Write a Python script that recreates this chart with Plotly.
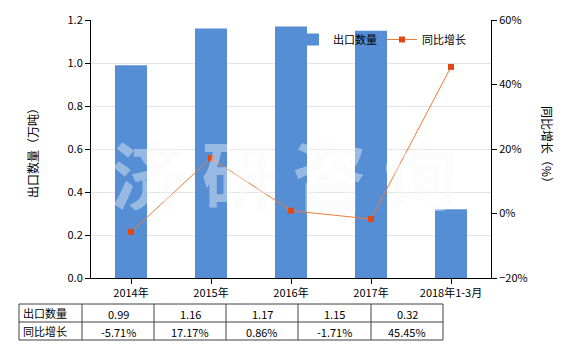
import plotly.graph_objects as go

categories = ["2014年", "2015年", "2016年", "2017年", "2018年1-3月"]
export_qty = [0.99, 1.16, 1.17, 1.15, 0.32]
yoy_growth = [-5.71, 17.17, 0.86, -1.71, 45.45]
qty_labels = ["0.99", "1.16", "1.17", "1.15", "0.32"]
yoy_labels = ["-5.71%", "17.17%", "0.86%", "-1.71%", "45.45%"]
row_labels = ["出口数量", "同比增长"]

FONT = "Noto Sans CJK SC"
W, H = 580, 350
ML, MR, MT, MB = 91, 89, 20, 72
PW, PH = W - ML - MR, H - MT - MB

def px(x):
    return (x - ML) / PW

def py(y):
    return (H - MB - y) / PH

fig = go.Figure()
fig.add_trace(go.Bar(
    x=categories, y=export_qty, name="出口数量",
    marker=dict(color="#558ED5", line=dict(width=0)),
    width=0.4, yaxis="y",
))
fig.add_trace(go.Scatter(
    x=categories, y=yoy_growth, name="同比增长", mode="lines+markers",
    line=dict(color="#EE7B3C", width=1),
    marker=dict(symbol="square", size=6, color="#E04A12"),
    yaxis="y2",
))

shapes = []
annotations = []

# watermark
annotations.append(dict(
    text="<b>济 研 咨 询</b>", xref="paper", yref="paper", x=px(284), y=py(172),
    showarrow=False, font=dict(family=FONT, size=74, color="rgba(245,248,246,0.42)"),
    xanchor="center", yanchor="middle",
))

# table
col_edges = [19, 82, 154, 226, 298, 371, 443]
row_edges = [304, 322, 340]
line_style = dict(color="#404040", width=1)
for x in col_edges:
    shapes.append(dict(type="line", xref="paper", yref="paper",
                       x0=px(x), x1=px(x), y0=py(row_edges[0]), y1=py(row_edges[-1]),
                       line=line_style))
for y in row_edges:
    shapes.append(dict(type="line", xref="paper", yref="paper",
                       x0=px(col_edges[0]), x1=px(col_edges[-1]), y0=py(y), y1=py(y),
                       line=line_style))
rows = [qty_labels, yoy_labels]
for r, (lab, vals) in enumerate(zip(row_labels, rows)):
    yc = (row_edges[r] + row_edges[r + 1]) / 2
    annotations.append(dict(text=lab, xref="paper", yref="paper", x=px(col_edges[0] + 2), y=py(yc),
                            showarrow=False, xanchor="left", yanchor="middle",
                            font=dict(family=FONT, size=11, color="#000")))
    for c, v in enumerate(vals):
        xc = (col_edges[c + 1] + col_edges[c + 2]) / 2
        annotations.append(dict(text=v, xref="paper", yref="paper", x=px(xc), y=py(yc + 1),
                                showarrow=False, xanchor="center", yanchor="middle",
                                font=dict(family=FONT, size=11, color="#000")))

# axis titles
annotations.append(dict(text="出口数量（万吨）", xref="paper", yref="paper", x=px(32), y=py(150),
                        showarrow=False, textangle=-90, xanchor="center", yanchor="middle",
                        font=dict(family=FONT, size=12, color="#000")))
annotations.append(dict(text="同比增长（%）", xref="paper", yref="paper", x=px(548), y=py(147),
                        showarrow=False, textangle=90, xanchor="center", yanchor="middle",
                        font=dict(family=FONT, size=12, color="#000")))

fig.update_layout(
    width=W, height=H, margin=dict(l=ML, r=MR, t=MT, b=MB, pad=0),
    paper_bgcolor="white", plot_bgcolor="white",
    font=dict(family=FONT, size=11, color="#000"),
    bargap=0.6,
    xaxis=dict(showline=True, linecolor="#000", linewidth=1, ticks="outside", ticklen=5,
               tickcolor="#000", showgrid=False, tickfont=dict(size=11)),
    yaxis=dict(range=[0, 1.2], dtick=0.2, tickformat=".1f", showline=True, linecolor="#000",
               linewidth=1, ticks="outside", ticklen=5, tickcolor="#000",
               showgrid=True, gridcolor="#E3E3E3", gridwidth=1, zeroline=False,
               tickfont=dict(size=11)),
    yaxis2=dict(range=[-20, 60], dtick=20, ticksuffix="%", overlaying="y", side="right",
                showline=True, linecolor="#000", linewidth=1, ticks="outside", ticklen=5,
                tickcolor="#000", showgrid=False, zeroline=False, tickfont=dict(size=11)),
    legend=dict(orientation="h", x=px(293), y=py(25), xanchor="left", yanchor="top",
                bgcolor="rgba(0,0,0,0)", font=dict(size=11), itemwidth=30),
    shapes=shapes, annotations=annotations,
)

fig.write_html("out.html")
